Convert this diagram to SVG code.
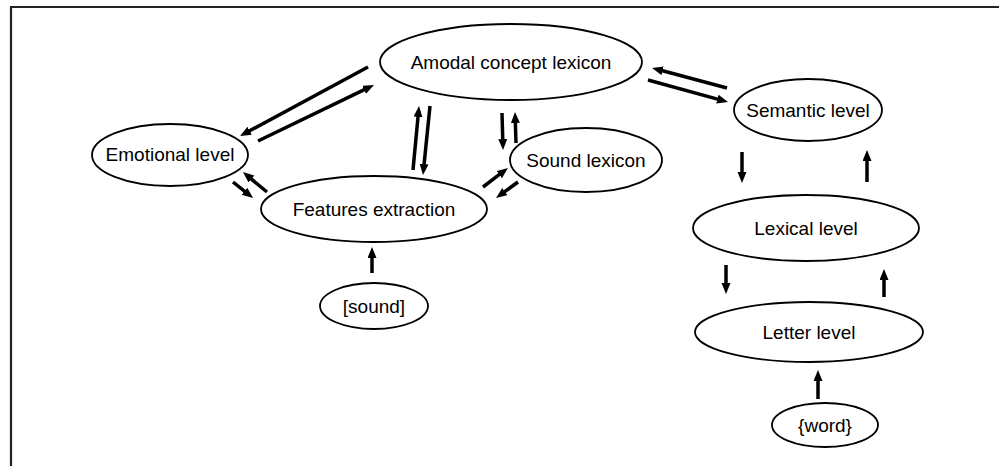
<svg xmlns="http://www.w3.org/2000/svg" width="999" height="466" viewBox="0 0 999 466">
<defs>
<marker id="ah" markerUnits="userSpaceOnUse" markerWidth="12" markerHeight="10" refX="2" refY="4.5" orient="auto">
<path d="M0,0 L11,4.5 L0,9 z" fill="#000"/>
</marker>
</defs>
<style>
.node ellipse{fill:#fff;stroke:#000;stroke-width:1.8}
.node text{font-family:"Liberation Sans",Arial,sans-serif;font-size:19px;fill:#000;text-anchor:middle}
#connectors line{stroke:#000;stroke-width:3.5;marker-end:url(#ah)}
.frame{stroke:#222;stroke-width:2.2;fill:none}
</style>
<rect width="999" height="466" fill="#fff"/>
<path class="frame" d="M11,466 L11,7 L999,7"/>
<g id="amodal" class="node"><ellipse cx="511" cy="62" rx="131" ry="38"/><text x="511" y="69">Amodal concept lexicon</text></g>
<g id="emotional" class="node"><ellipse cx="170" cy="155" rx="78" ry="31"/><text x="170" y="161">Emotional level</text></g>
<g id="features" class="node"><ellipse cx="374" cy="209" rx="113" ry="33"/><text x="374" y="216">Features extraction</text></g>
<g id="sound-lexicon" class="node"><ellipse cx="586" cy="160" rx="76" ry="32"/><text x="586" y="167">Sound lexicon</text></g>
<g id="semantic" class="node"><ellipse cx="808" cy="110" rx="74" ry="31"/><text x="808" y="117">Semantic level</text></g>
<g id="lexical" class="node"><ellipse cx="806" cy="228" rx="113" ry="33"/><text x="806" y="235">Lexical level</text></g>
<g id="letter" class="node"><ellipse cx="809" cy="332" rx="114" ry="30"/><text x="809" y="339">Letter level</text></g>
<g id="sound" class="node"><ellipse cx="374" cy="306" rx="54" ry="23"/><text x="374" y="313">[sound]</text></g>
<g id="word" class="node"><ellipse cx="825" cy="425" rx="53" ry="22"/><text x="825" y="432">{word}</text></g>
<g id="connectors">
<line x1="368" y1="67" x2="247.9" y2="131.7"/>
<line x1="258" y1="141" x2="365.9" y2="88.9"/>
<line x1="233" y1="182" x2="246" y2="192.4"/>
<line x1="267" y1="192" x2="249.9" y2="177.8"/>
<line x1="413" y1="170" x2="418.2" y2="115"/>
<line x1="430" y1="106" x2="423.9" y2="166"/>
<line x1="502" y1="113" x2="502.8" y2="141"/>
<line x1="516" y1="143" x2="515.3" y2="121"/>
<line x1="483" y1="187" x2="500.8" y2="173.4"/>
<line x1="518" y1="182" x2="503.3" y2="192.7"/>
<line x1="727" y1="88" x2="660.7" y2="70.3"/>
<line x1="648" y1="80" x2="719.3" y2="99.6"/>
<line x1="742" y1="152" x2="742" y2="174"/>
<line x1="867" y1="182" x2="867" y2="159"/>
<line x1="726" y1="265" x2="726" y2="285"/>
<line x1="884" y1="297" x2="884" y2="278"/>
<line x1="818" y1="399" x2="818" y2="379"/>
<line x1="372" y1="273" x2="372" y2="256"/>
</g>
</svg>
